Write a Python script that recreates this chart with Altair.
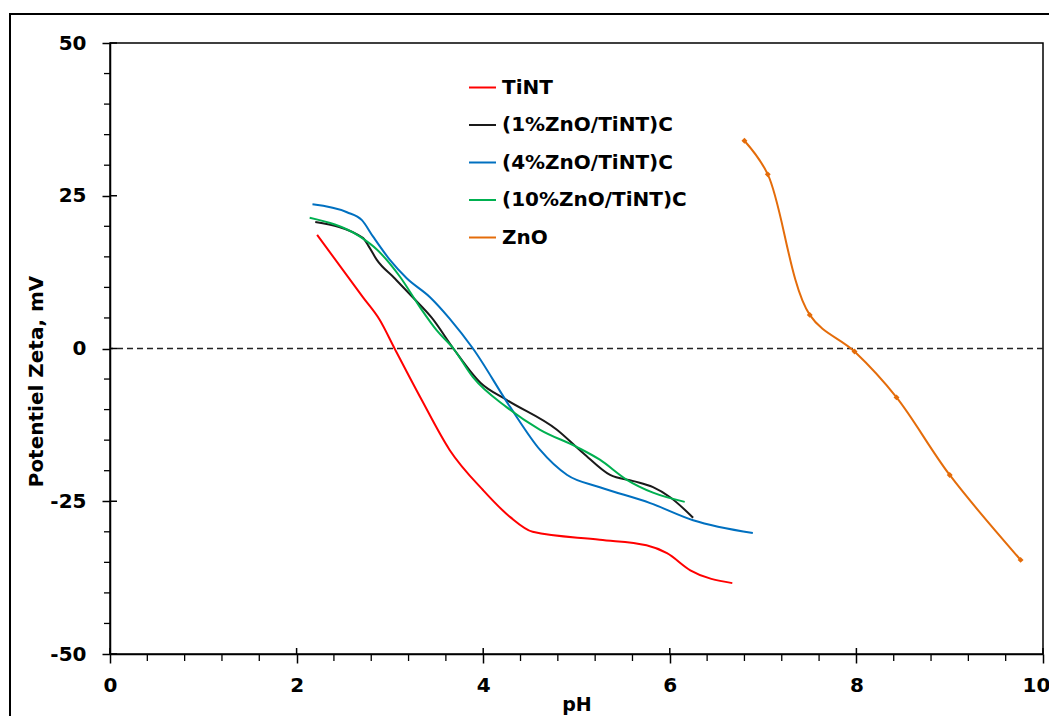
import altair as alt
import pandas as pd

# ---- data ----
tint_ph = [2.22, 2.71, 2.89, 3.05, 3.34, 3.64, 4.0, 4.29, 4.53, 5.25, 5.75, 5.97, 6.22, 6.67]
tint_v = [18.6, 8.4, 4.7, 0.0, -8.4, -16.6, -23.2, -27.6, -30.0, -31.3, -32.2, -33.5, -36.3, -38.4]

zn1_ph = [2.20, 2.71, 2.77, 2.86, 3.05, 3.25, 3.45, 3.68, 3.97, 4.25, 4.79, 5.07, 5.36, 5.61, 5.82, 6.0, 6.25]
zn1_v = [20.7, 18.1, 16.8, 14.5, 11.5, 8.3, 5.0, 0.0, -5.6, -8.4, -13.3, -17.1, -20.7, -21.7, -22.7, -24.3, -27.7]

zn4_ph = [2.17, 2.54, 2.70, 2.82, 3.0, 3.18, 3.43, 3.64, 3.89, 4.29, 4.61, 4.90, 5.25, 5.79, 6.25, 6.89]
zn4_v = [23.6, 22.3, 21.0, 18.3, 14.5, 11.5, 8.4, 4.9, 0.0, -9.6, -16.6, -20.7, -22.7, -25.3, -28.1, -30.2]

zn10_ph = [2.14, 2.68, 2.86, 3.11, 3.32, 3.50, 3.68, 3.89, 4.25, 4.61, 5.0, 5.25, 5.54, 5.82, 6.16]
zn10_v = [21.4, 18.3, 16.2, 11.7, 6.8, 3.0, 0.0, -4.7, -9.6, -13.3, -16.1, -18.2, -21.5, -23.6, -25.1]

zno_ph = [6.80, 7.05, 7.50, 7.98, 8.43, 9.00, 9.76]
zno_v = [34.0, 28.5, 5.5, -0.5, -8.0, -20.7, -34.6]

series = ["TiNT", "(1%ZnO/TiNT)C", "(4%ZnO/TiNT)C", "(10%ZnO/TiNT)C", "ZnO"]
colors = ["#FF0000", "#1A1A1A", "#0070C0", "#00B050", "#E46C0A"]

x_major = [0, 2, 4, 6, 8, 10]
x_minor = [0.4, 0.8, 1.2, 1.6, 2.4, 2.8, 3.2, 3.6, 4.4, 4.8, 5.2, 5.6,
           6.4, 6.8, 7.2, 7.6, 8.4, 8.8, 9.2, 9.6]
y_major = [-50, -25, 0, 25, 50]
y_minor = [-45, -40, -35, -30, -20, -15, -10, -5, 5, 10, 15, 20, 30, 35, 40, 45]

rows = []
for name, xs, ys in [(series[0], tint_ph, tint_v), (series[1], zn1_ph, zn1_v),
                     (series[2], zn4_ph, zn4_v), (series[3], zn10_ph, zn10_v)]:
    for a, b in zip(xs, ys):
        rows.append({"series": name, "pH": a, "zeta": b})
df = pd.DataFrame(rows)
df_zno = pd.DataFrame({"series": "ZnO", "pH": zno_ph, "zeta": zno_v})

W, H = 933, 611
FONT = "DejaVu Sans"

xscale = alt.Scale(domain=[0, 10], nice=False, zero=False)
yscale = alt.Scale(domain=[-50, 50], nice=False, zero=False)
cscale = alt.Scale(domain=series, range=colors)

xaxis = alt.Axis(values=x_major, labelExpr="'' + datum.value", tickSize=9,
                 labelOverlap=False, labelFlush=False, title="pH",
                 labelOffset={"condition": {"test": "datum.value == 10", "value": -7}, "value": 0})
yaxis = alt.Axis(values=y_major, labelExpr="'' + datum.value", tickSize=8,
                 labelOverlap=False, labelFlush=False,
                 title="Potentiel Zeta, mV", titleY=338, titleX=-64)

lines = alt.Chart(df).mark_line(interpolate="monotone", strokeWidth=2).encode(
    x=alt.X("pH:Q", scale=xscale, axis=xaxis),
    y=alt.Y("zeta:Q", scale=yscale, axis=yaxis),
    color=alt.Color("series:N", scale=cscale, sort=series,
                    legend=alt.Legend(title=None, orient="none", legendX=358, legendY=30,
                                      symbolType="stroke", symbolSize=729, symbolStrokeWidth=2,
                                      labelFont=FONT, labelFontSize=20, labelFontWeight="bold",
                                      labelColor="black", rowPadding=12.5, labelOffset=5,
                                      labelLimit=500)),
    detail="series:N",
)

zno_line = alt.Chart(df_zno).mark_line(interpolate="catmull-rom", strokeWidth=2).encode(
    x=alt.X("pH:Q", scale=xscale),
    y=alt.Y("zeta:Q", scale=yscale),
    color=alt.Color("series:N", scale=cscale, sort=series),
)
zno_pts = alt.Chart(df_zno).mark_point(filled=True, shape="diamond", size=35, opacity=1).encode(
    x=alt.X("pH:Q", scale=xscale),
    y=alt.Y("zeta:Q", scale=yscale),
    color=alt.Color("series:N", scale=cscale, sort=series),
)

zero = alt.Chart(pd.DataFrame({"y": [0]})).mark_rule(
    color="#222222", strokeDash=[6, 4], strokeWidth=1.3
).encode(y=alt.Y("y:Q", scale=yscale))

# inner halves of the major ticks (they cross the axis) and minor ticks
xin = alt.Chart(pd.DataFrame({"x": x_major})).mark_rule(color="black", strokeWidth=1.5).encode(
    x=alt.X("x:Q", scale=xscale), y=alt.value(H), y2=alt.value(H - 6))
yin = alt.Chart(pd.DataFrame({"y": y_major})).mark_rule(color="black", strokeWidth=1.5).encode(
    y=alt.Y("y:Q", scale=yscale), x=alt.value(0), x2=alt.value(7))
xmin = alt.Chart(pd.DataFrame({"x": x_minor})).mark_rule(color="black", strokeWidth=1.3).encode(
    x=alt.X("x:Q", scale=xscale), y=alt.value(H), y2=alt.value(H + 7))
ymin = alt.Chart(pd.DataFrame({"y": y_minor})).mark_rule(color="black", strokeWidth=1.3).encode(
    y=alt.Y("y:Q", scale=yscale), x=alt.value(0), x2=alt.value(-6))

frame = alt.Chart(pd.DataFrame({"f": [0]})).mark_rect(
    fill=None, stroke="black", strokeWidth=2
).encode(x=alt.value(-100), x2=alt.value(1200), y=alt.value(-29), y2=alt.value(900))

chart = alt.layer(frame, zero, xin, yin, xmin, ymin, lines, zno_line, zno_pts).properties(
    width=W, height=H,
    autosize=alt.AutoSizeParams(type="none"),
    padding={"left": 102, "top": 35, "right": 6, "bottom": 62},
).configure_view(
    stroke="black", strokeWidth=1.5
).configure_axis(
    grid=False, domainColor="black", domainWidth=1.5, tickColor="black", tickWidth=1.5,
    labelFont=FONT, labelFontSize=20, labelFontWeight="bold", labelColor="black",
    titleFont=FONT, titleFontSize=19, titleFontWeight="bold", titleColor="black",
).configure_axisX(
    labelPadding=12, titlePadding=0
).configure_axisY(
    labelPadding=16, titlePadding=4, titleFontSize=20
)

chart.save("out.html", embed_options={"renderer": "svg", "actions": False})
